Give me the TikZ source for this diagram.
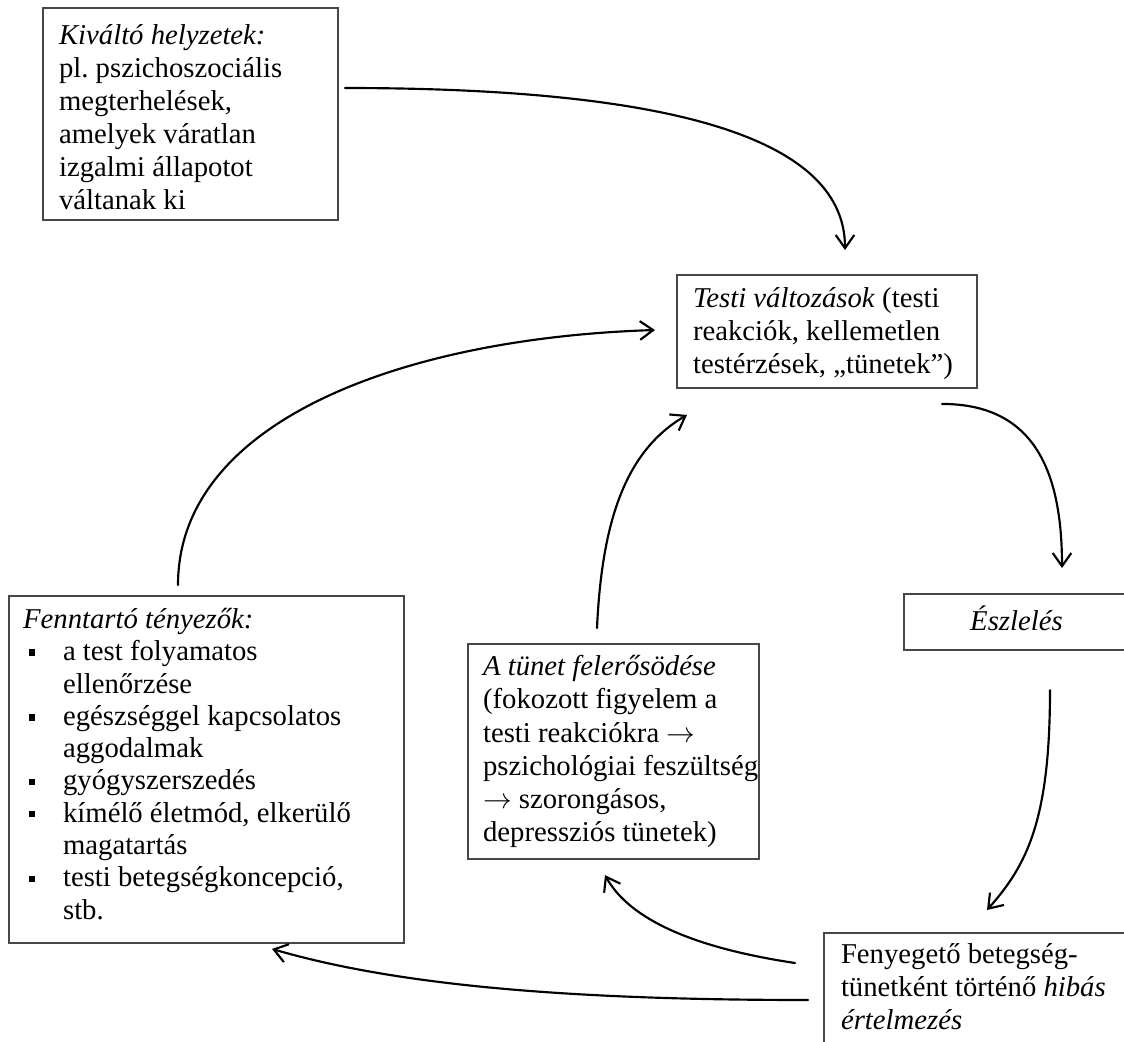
\documentclass[tikz,border=0pt]{standalone}
\usepackage{fontspec}
\setmainfont{Liberation Serif}
\usetikzlibrary{arrows.meta,calc}
\frenchspacing
% square bullet with hanging indent for the list of maintaining factors
\newcommand{\sqb}{\makebox[16.7pt][l]{\hspace*{2.3pt}\rule[2.0pt]{2.5pt}{2.7pt}}}
\newcommand{\hind}{\hspace*{16.7pt}}
\newcommand{\ra}{$\rightarrow$}
\tikzset{
  panel/.style={draw=black!72, line width=0.85pt, anchor=north west,
    inner xsep=6.7pt, inner ysep=4.1pt, font=\fontsize{12}{13.8}\selectfont},
  flow/.style={line width=0.9pt, line cap=round,
    -{Straight Barb[length=5.5pt,width=7.8pt,line width=0.9pt]}}
}
\begin{document}
\begin{tikzpicture}[x=0.418pt,y=-0.418pt]
\useasboundingbox (0,0) rectangle (1124,1042);
\clip (0,0) rectangle (1124,1042);

% boxes
\node[panel, inner ysep=5.4pt] (K) at (42,7) {\begin{minipage}[t][77.8pt][t]{109.9pt}\raggedright\strut
\textit{Kiváltó helyzetek:}\\
pl. pszichoszociális\\
megterhelések,\\
amelyek váratlan\\
izgalmi állapotot\\
váltanak ki\end{minipage}};

\node[panel] (T) at (676,274) {\begin{minipage}[t][39pt][t]{112pt}\raggedright\strut
\textit{Testi változások} (testi\\
reakciók, kellemetlen\\
testérzések, „tünetek”)\end{minipage}};

\node[panel, inner xsep=5.9pt, font=\fontsize{12}{13.5}\selectfont] (F) at (8,595) {\begin{minipage}[t][136.8pt][t]{153.3pt}\raggedright\strut
\textit{Fenntartó tényezők:}\\
\sqb a test folyamatos\\
\hind ellenőrzése\\
\sqb egészséggel kapcsolatos\\
\hind aggodalmak\\
\sqb gyógyszerszedés\\
\sqb kímélő életmód, elkerülő\\
\hind magatartás\\
\sqb testi betegségkoncepció,\\
\hind stb.\end{minipage}};

\node[panel, inner xsep=6.3pt, inner ysep=3.7pt] (A) at (467,643) {\begin{minipage}[t][82.5pt][t]{109pt}\raggedright\strut
\textit{A tünet felerősödése}\\
(fokozott figyelem a\\
testi reakciókra \ra\\
\makebox[109pt][l]{pszichológiai feszültség}\\
\ra{} szorongásos,\\
depressziós tünetek)\end{minipage}};

\node[panel, inner xsep=0pt, inner ysep=4.97pt] (E) at (903,593) {\begin{minipage}[t][13.5pt][t]{94pt}\centering\strut
\textit{Észlelés}\end{minipage}};

\node[panel, inner xsep=7.1pt, inner ysep=2.9pt] (R) at (823,932) {\begin{minipage}[t][47.7pt][t]{118.3pt}\raggedright\strut
Fenyegető betegség-\\
tünetként történő \textit{hibás}\\
\textit{értelmezés}\end{minipage}};

% connectors
\draw[flow] ($(K.north east)+(6,81)$) .. controls +(300,0) and +(0,-120) .. ($(T.north west)+(169,-24)$);
\draw[flow] ($(T.south east)+(-36,15)$) .. controls +(90,0) and +(0,-100) .. ($(E.north west)+(159,-25)$);
\draw[flow] ($(E.south west)+(147,39)$) .. controls +(0,130) and +(40,-45) .. ($(R.north west)+(164,-22)$);
\draw[flow] ($(R.north west)+(-28,31)$) .. controls +(-100,-15) and +(25,45) .. ($(A.south west)+(138,15)$);
\draw[flow] ($(R.north west)+(-15,68)$) .. controls +(-250,0) and +(120,35) .. ($(F.south east)+(-133,5)$);
\draw[flow] ($(A.north west)+(130,-15)$) .. controls +(5,-110) and +(-60,35) .. ($(T.south west)+(11,26)$);
\draw[flow] ($(F.north west)+(170,-10)$) .. controls +(0,-165) and +(-250,8) .. ($(T.north west)+(-21,56)$);
\end{tikzpicture}
\end{document}
